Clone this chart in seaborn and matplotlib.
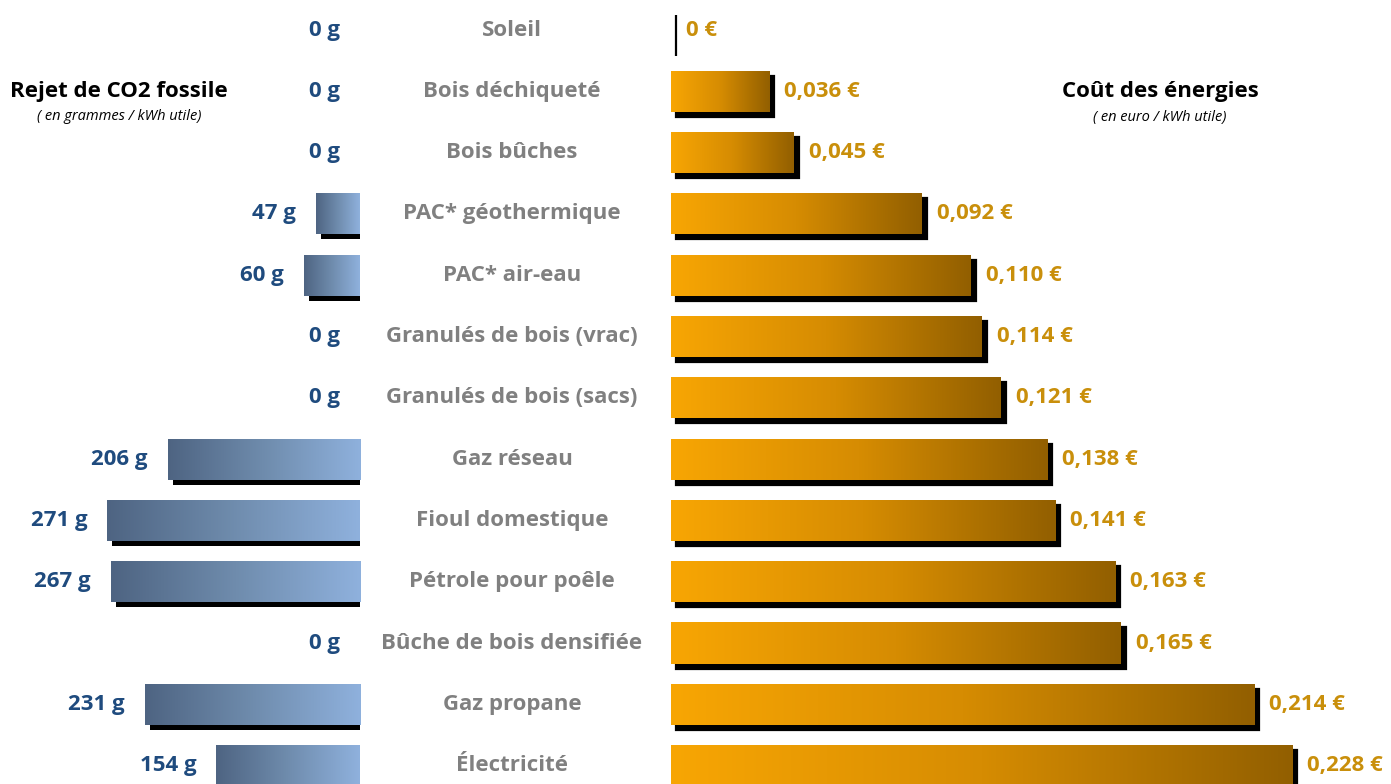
import numpy as np
import matplotlib
matplotlib.use("Agg")
import matplotlib.pyplot as plt
import seaborn as sns
import pandas as pd
from matplotlib import transforms
from matplotlib.patches import Rectangle
from matplotlib.colors import LinearSegmentedColormap

# ---------------- data ----------------
categories = ["Soleil", "Bois déchiqueté", "Bois bûches", "PAC* géothermique",
              "PAC* air-eau", "Granulés de bois (vrac)", "Granulés de bois (sacs)",
              "Gaz réseau", "Fioul domestique", "Pétrole pour poêle",
              "Bûche de bois densifiée", "Gaz propane", "Électricité"]
co2_g = [0, 0, 0, 47, 60, 0, 0, 206, 271, 267, 0, 231, 154]
cost_eur = [0, 0.036, 0.045, 0.092, 0.110, 0.114, 0.121, 0.138, 0.141,
            0.163, 0.165, 0.214, 0.228]
co2_labels = [f"{v} g" for v in co2_g]
cost_labels = ["0 €"] + [f"{v:.3f} €".replace(".", ",") for v in cost_eur[1:]]

df = pd.DataFrame({"cat": categories, "co2": co2_g, "cost": cost_eur})

# ---------------- style ----------------
sns.set_theme(style="white")
plt.rcParams["font.family"] = ["Open Sans", "DejaVu Sans"]

W, H = 1391, 784
fig = plt.figure(figsize=(W / 100, H / 100), dpi=100)
fig.patch.set_facecolor("white")

ax_l = fig.add_axes([0, 0, 360 / W, 1])
ax_r = fig.add_axes([671 / W, 0, 720 / W, 1])

blue_cmap = LinearSegmentedColormap.from_list("b", ["#4e6482", "#6f8cad", "#8fb1dd"])
orange_cmap = LinearSegmentedColormap.from_list("o", ["#f8a604", "#d68c02", "#925f00"])

BAR_H = 0.67
sns.barplot(data=df, y="cat", x="co2", ax=ax_l, orient="h", width=BAR_H,
            color="#8fb1dd", saturation=1)
sns.barplot(data=df, y="cat", x="cost", ax=ax_r, orient="h", width=BAR_H,
            color="#f8a604", saturation=1)

ylim = (12.30, -0.49)
grad = np.linspace(0, 1, 256).reshape(1, -1)


def decorate(ax, cmap, edge_line):
    shadow_tr = transforms.offset_copy(ax.transData, fig=fig, x=5, y=-5, units="dots")
    for p in list(ax.patches):
        x0, y0 = p.get_x(), p.get_y()
        w, h = p.get_width(), p.get_height()
        sh = Rectangle((x0, y0), w, h, transform=shadow_tr, facecolor="black",
                       edgecolor="black" if edge_line else "none",
                       linewidth=1.6 if edge_line else 0, zorder=1)
        ax.add_patch(sh)
        p.set_zorder(2)
        p.set_edgecolor("none")
        if w != 0:
            im = ax.imshow(grad, cmap=cmap, aspect="auto",
                           extent=[x0 if w > 0 else x0 + w, x0 + w if w > 0 else x0,
                                   y0 + h, y0],
                           zorder=3, interpolation="bicubic")
            im.set_clip_path(p)


decorate(ax_l, blue_cmap.reversed(), False)
decorate(ax_r, orange_cmap, True)

# left axis: values grow to the left
ax_l.set_xlim(386, 0)
ax_r.set_xlim(0, 720 / 2725)
for ax in (ax_l, ax_r):
    ax.set_ylim(*ylim)
    ax.set_axis_off()

FS = 16
# value labels
lab_l_tr = transforms.offset_copy(ax_l.transData, fig=fig, x=-20, y=0, units="dots")
for i, (v, t) in enumerate(zip(co2_g, co2_labels)):
    ax_l.text(v, i, t, transform=lab_l_tr, ha="right", va="center",
              fontsize=FS, fontweight="bold", color="#1f4b7e", clip_on=False)

lab_r_tr = transforms.offset_copy(ax_r.transData, fig=fig, x=15, y=0, units="dots")
for i, (v, t) in enumerate(zip(cost_eur, cost_labels)):
    ax_r.text(v, i, t, transform=lab_r_tr, ha="left", va="center",
              fontsize=FS, fontweight="bold", color="#c98f0b", clip_on=False)

# category labels in the middle
cat_tr = transforms.blended_transform_factory(fig.transFigure, ax_r.transData)
for i, c in enumerate(categories):
    ax_r.text(512 / W, i, c, transform=cat_tr, ha="center", va="center",
              fontsize=FS, fontweight="bold", color="#808080", clip_on=False)

# titles
fig.text(119 / W, 1 - 92 / H, "Rejet de CO2 fossile", ha="center", va="center",
         fontsize=FS, fontweight="bold", color="black")
fig.text(119 / W, 1 - 117 / H, "( en grammes / kWh utile)", ha="center", va="center",
         fontsize=10.5, style="italic", color="black")
fig.text(1160 / W, 1 - 92 / H, "Coût des énergies", ha="center", va="center",
         fontsize=FS, fontweight="bold", color="black")
fig.text(1160 / W, 1 - 117 / H, "( en euro / kWh utile)", ha="center", va="center",
         fontsize=10.5, style="italic", color="black")

fig.savefig("out.png", dpi=100, facecolor="white")
